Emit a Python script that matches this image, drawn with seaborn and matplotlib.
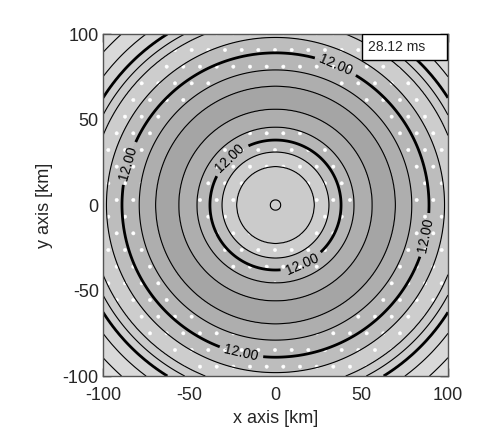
import numpy as np
import matplotlib
matplotlib.use("Agg")
import matplotlib.pyplot as plt
from matplotlib.ticker import MultipleLocator
from matplotlib.patches import Rectangle
import seaborn as sns

sns.set_theme(style="white")
plt.rcParams['font.family'] = ['Liberation Sans', 'DejaVu Sans']
plt.rcParams['axes.unicode_minus'] = False
plt.rcParams['hatch.color'] = 'white'
plt.rcParams['hatch.linewidth'] = 0.35

# radial profile (radius in km -> field value)
prof_r = [0, 3, 22.5, 31, 38, 45.5, 56, 63, 69.5, 79, 89, 98, 108, 113, 118, 125, 134, 142]
prof_v = [11.20, 11.25, 11.50, 11.75, 12.00, 12.25, 12.50, 12.60, 12.50, 12.25,
          12.00, 11.75, 11.50, 11.25, 11.00, 10.75, 10.50, 10.35]

fill_levels = [10.25, 10.5, 10.75, 11.0, 11.25, 11.5, 11.75, 12.0, 12.25, 12.5, 12.75]
fill_colors = ['#dedede', '#d9d9d9', '#d3d3d3', '#cfcfcf', '#cbcbcb', '#cdcdcd',
               '#bdbdbd', '#b6b6b6', '#aeaeae', '#a5a5a5']
fill_hatch = [None, None, None, None, None, '.', '.', '.', None, None]
thin_levels = [10.5, 10.75, 11.25, 11.5, 11.75, 12.25, 12.5]
thick_levels = [11.0, 12.0]
label_level = [12.0]
label_pos = [(-27, 28), (16, -36), (36, 84), (-87, 25), (89, -18), (-20, -87)]

time_text = '28.12 ms'

x = np.linspace(-100, 100, 401)
xx, yy = np.meshgrid(x, x)
field = np.interp(np.hypot(xx, yy), prof_r, prof_v)

fig = plt.figure(figsize=(4.8, 4.45), dpi=100)
ax = fig.add_axes([0.2146, 0.155, 0.7187, 0.7685])

cf = ax.contourf(xx, yy, field, levels=fill_levels, colors=fill_colors, hatches=fill_hatch)
ax.contour(xx, yy, field, levels=thin_levels, colors='black', linewidths=0.8)
ax.contour(xx, yy, field, levels=[thick_levels[0]], colors='black', linewidths=2.0)
cs = ax.contour(xx, yy, field, levels=label_level, colors='black', linewidths=2.0)
ax.clabel(cs, fmt='%.2f', manual=label_pos, inline=True, fontsize=10)

ax.add_patch(Rectangle((0.751, 0.924), 0.246, 0.076, transform=ax.transAxes,
                       facecolor='white', edgecolor='black', lw=1, zorder=5))
ax.text(0.768, 0.962, time_text, transform=ax.transAxes, ha='left', va='center',
        fontsize=10, zorder=6)

ax.set_xlim(-100, 100)
ax.set_ylim(-100, 100)
ax.set_xticks([-100, -50, 0, 50, 100])
ax.set_yticks([-100, -50, 0, 50, 100])
ax.xaxis.set_minor_locator(MultipleLocator(10))
ax.yaxis.set_minor_locator(MultipleLocator(10))
ax.tick_params(which='both', direction='in', top=True, right=True, bottom=True, left=True,
               color='black', labelsize=13)
ax.tick_params(axis='x', which='major', pad=8)
ax.tick_params(axis='y', which='major', pad=3)
ax.tick_params(which='major', length=6, width=1)
ax.tick_params(which='minor', length=3, width=0.8)
for s in ax.spines.values():
    s.set_color('#555555')
    s.set_linewidth(1)

ax.set_xlabel('x axis [km]', fontsize=13, labelpad=4)
ax.set_ylabel('y axis [km]', fontsize=13, labelpad=7)

fig.savefig('out.png', dpi=100)
